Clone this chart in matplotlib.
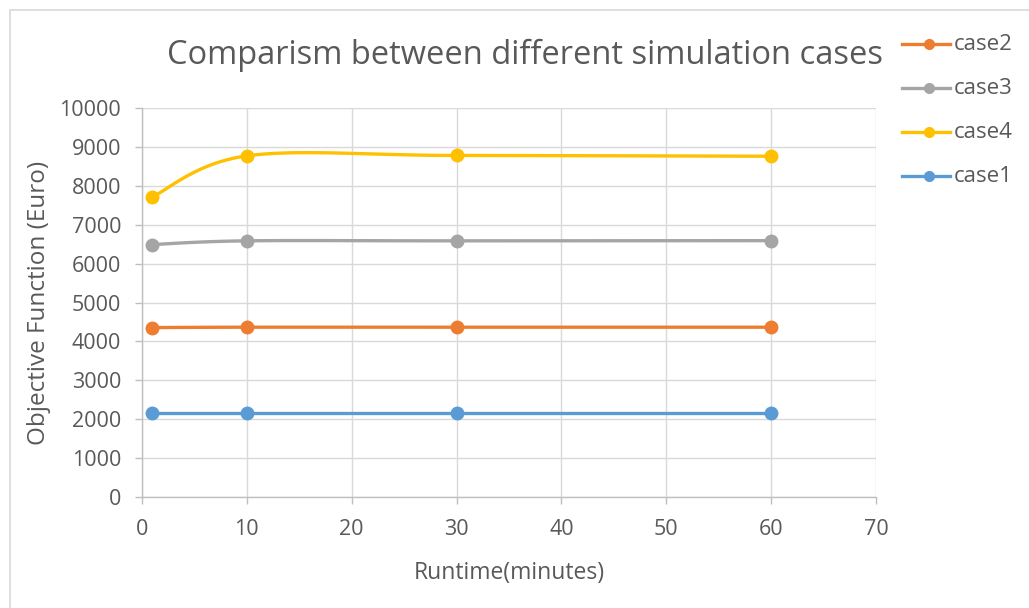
import numpy as np
import matplotlib
matplotlib.use("Agg")
import matplotlib.pyplot as plt
from matplotlib.lines import Line2D
from matplotlib.patches import Rectangle

plt.rcParams['font.family'] = ['Open Sans', 'DejaVu Sans']

runtime = [1, 10, 30, 60]
series_names = ['case2', 'case3', 'case4', 'case1']
case2 = [4355, 4365, 4365, 4365]
case3 = [6490, 6585, 6585, 6590]
case4 = [7720, 8770, 8780, 8760]
case1 = [2150, 2150, 2150, 2150]
series_values = [case2, case3, case4, case1]
colors = ['#ED7D31', '#A5A5A5', '#FFC000', '#5B9BD5']
x_ticks = [0, 10, 20, 30, 40, 50, 60, 70]
y_ticks = list(range(0, 10001, 1000))

W, H, DPI = 1029, 608, 100
fig = plt.figure(figsize=(W / DPI, H / DPI), dpi=DPI)
fig.patch.set_facecolor('white')
fig.patches.append(Rectangle((10 / W, -0.1), 1.2, (H - 10) / H + 0.1,
                             transform=fig.transFigure, fill=False,
                             edgecolor='#d9d9d9', linewidth=1.2))

ax = fig.add_axes([142 / W, 1 - 497 / H, (876 - 142) / W, (497 - 108) / H])
ax.set_xlim(0, 70)
ax.set_ylim(0, 10000)
ax.set_xticks(x_ticks)
ax.set_yticks(y_ticks)
ax.grid(True, color='#d9d9d9', linewidth=1)
ax.set_axisbelow(True)
for s in ['top', 'right']:
    ax.spines[s].set_visible(False)
for s in ['left', 'bottom']:
    ax.spines[s].set_color('#bfbfbf')
    ax.spines[s].set_linewidth(1)
ax.tick_params(axis='both', colors='#bfbfbf', labelcolor='#595959',
               labelsize=15.5, length=5, width=1)
ax.tick_params(axis='y', pad=10)
ax.tick_params(axis='x', pad=11)
ax.set_xlabel('Runtime(minutes)', fontsize=16.5, color='#595959', labelpad=15)
ax.set_ylabel('Objective Function (Euro)', fontsize=17.5, color='#595959', labelpad=6)


def smooth(xs, ys, n=40):
    pts = ax.transData.transform(np.column_stack([xs, ys]))
    out = []
    m = len(pts)
    for i in range(m - 1):
        p0 = pts[i - 1] if i > 0 else pts[i]
        p1 = pts[i]
        p2 = pts[i + 1]
        p3 = pts[i + 2] if i + 2 < m else pts[i + 1]
        c1 = p1 + (p2 - p0) / 6
        c2 = p2 - (p3 - p1) / 6
        t = np.linspace(0, 1, n)[:, None]
        seg = ((1 - t) ** 3) * p1 + 3 * ((1 - t) ** 2) * t * c1 + 3 * (1 - t) * t ** 2 * c2 + t ** 3 * p2
        out.append(seg if i == 0 else seg[1:])
    out = np.vstack(out)
    d = ax.transData.inverted().transform(out)
    return d[:, 0], d[:, 1]


for name, vals, c in zip(series_names, series_values, colors):
    sx, sy = smooth(runtime, vals)
    ax.plot(sx, sy, color=c, linewidth=2.4, solid_capstyle='round', zorder=3)
    ax.plot(runtime, vals, linestyle='none', marker='o', markersize=9,
            color=c, zorder=4)

fig.text(525 / W, 1 - 55 / H, 'Comparism between different simulation cases',
         ha='center', va='center', fontsize=23.5, color='#595959')

# legend
for i, (name, c) in enumerate(zip(series_names, colors)):
    yy = 1 - (44 + 44 * i) / H
    fig.lines.append(Line2D([902 / W, 950 / W], [yy, yy], transform=fig.transFigure,
                            color=c, linewidth=2.4))
    fig.lines.append(Line2D([929 / W], [yy], transform=fig.transFigure,
                            color=c, marker='o', markersize=7, linestyle='none'))
    fig.text(954 / W, yy, name, ha='left', va='center', fontsize=16,
             color='#595959')

fig.savefig('out.png', dpi=DPI)
